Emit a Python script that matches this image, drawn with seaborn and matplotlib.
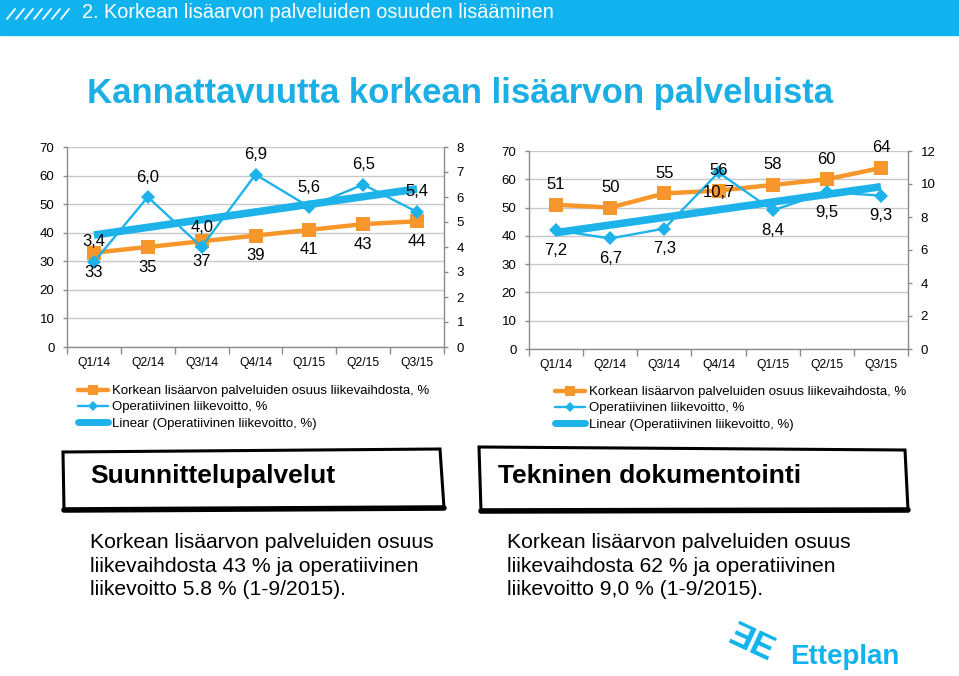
import numpy as np
import pandas as pd
import matplotlib
matplotlib.use("Agg")
import matplotlib.pyplot as plt
import seaborn as sns
from matplotlib.lines import Line2D
from matplotlib.patches import Rectangle, Polygon

# ---------------- data ----------------
quarters = ["Q1/14", "Q2/14", "Q3/14", "Q4/14", "Q1/15", "Q2/15", "Q3/15"]
share_design = [33, 35, 37, 39, 41, 43, 44]
ebit_design = [3.4, 6.0, 4.0, 6.9, 5.6, 6.5, 5.4]
share_tech = [51, 50, 55, 56, 58, 60, 64]
ebit_tech = [7.2, 6.7, 7.3, 10.7, 8.4, 9.5, 9.3]
legend_labels = ["Korkean lisäarvon palveluiden osuus liikevaihdosta, %",
                 "Operatiivinen liikevoitto, %",
                 "Linear (Operatiivinen liikevoitto, %)"]

ORANGE = "#F7962B"
BLUE = "#1DB3EA"
CYAN = "#10B3EE"
TITLE_C = "#1BAFE6"
GRAY = "#8C8C8C"
GRID = "#C8C8C8"

sns.set_theme(style="white")
plt.rcParams["font.family"] = ["Liberation Sans", "DejaVu Sans"]
plt.rcParams["text.color"] = "black"

W, H = 959, 676
fig = plt.figure(figsize=(W / 100, H / 100), dpi=100)


def fx(x):
    return x / W


def fy(y):
    return 1 - y / H


def fmt(v):
    return f"{v:.1f}".replace(".", ",")


def draw_chart(px_left, px_top, px_right, px_bottom, share, ebit, ymax2, step2, share_above):
    ax = fig.add_axes([fx(px_left), fy(px_bottom), (px_right - px_left) / W, (px_bottom - px_top) / H])
    x = np.arange(len(quarters))
    df = pd.DataFrame({"x": x, "share": share, "ebit": ebit})
    sns.lineplot(data=df, x="x", y="share", ax=ax, color=ORANGE, lw=3.2, marker="s",
                 markersize=10.5, markeredgewidth=0, zorder=3)
    ax2 = ax.twinx()
    sns.lineplot(data=df, x="x", y="ebit", ax=ax2, color=BLUE, lw=1.7, marker="D",
                 markersize=7, markeredgewidth=0, zorder=3)
    sns.regplot(data=df, x="x", y="ebit", ax=ax2, scatter=False, ci=None, truncate=True,
                line_kws=dict(color=BLUE, lw=5.5, solid_capstyle="butt", zorder=4))

    ax.set_xlim(-0.5, len(quarters) - 0.5)
    ax.set_ylim(0, 70)
    ax.set_yticks(range(0, 71, 10))
    ax2.set_ylim(0, ymax2)
    ax2.set_yticks(np.arange(0, ymax2 + 0.1, step2))
    ax.set_xticks(x)
    ax.set_xticklabels(quarters)
    ax.set_xticks(np.arange(-0.5, len(quarters), 1), minor=True)
    for a in (ax, ax2):
        a.set_xlabel("")
        a.set_ylabel("")
    ax.tick_params(axis="x", which="major", length=0, pad=7, labelsize=8.7, labelcolor="black")
    ax.tick_params(axis="x", which="minor", bottom=True, length=5, width=1, color=GRAY, direction="out")
    ax.tick_params(axis="y", left=True, length=3, width=1, color=GRAY, direction="out",
                   labelsize=9.5, pad=6, labelcolor="black")
    ax2.tick_params(axis="y", right=True, length=3, width=1, color=GRAY, direction="out",
                    labelsize=9.5, pad=6, labelcolor="black")
    ax.grid(axis="y", color=GRID, lw=1)
    ax.grid(axis="x", visible=False)
    ax2.grid(False)
    ax.set_axisbelow(True)
    for s in ("top", "right"):
        ax.spines[s].set_visible(False)
    for s in ("left", "bottom"):
        ax.spines[s].set_color(GRAY)
        ax.spines[s].set_linewidth(1)
    for s in ("top", "left", "bottom"):
        ax2.spines[s].set_visible(False)
    ax2.spines["right"].set_color(GRAY)
    ax2.spines["right"].set_linewidth(1)

    off = 20
    for xi, v in zip(x, share):
        ax2.annotate(str(v), (xi, v), xycoords=ax.transData,
                     xytext=(0, off if share_above else -off), textcoords="offset pixels",
                     ha="center", va="center", fontsize=12, zorder=6)
    for xi, v in zip(x, ebit):
        ax2.annotate(fmt(v), (xi, v), xytext=(0, -off if share_above else off),
                     textcoords="offset pixels", ha="center", va="center", fontsize=12, zorder=6)
    return ax, ax2


draw_chart(67, 147, 444, 347, share_design, ebit_design, 8, 1, share_above=False)
draw_chart(529, 151, 908, 349, share_tech, ebit_tech, 12, 2, share_above=True)

# legends
handles = [Line2D([], [], color=ORANGE, lw=3.2, marker="s", markersize=7, mew=0),
           Line2D([], [], color=BLUE, lw=1.7, marker="D", markersize=5, mew=0),
           Line2D([], [], color=BLUE, lw=5)]
for lx, ly in ((78, 385), (555, 386)):
    fig.legend(handles, legend_labels, loc="upper left", bbox_to_anchor=(fx(lx), fy(ly)),
               frameon=False, fontsize=9.5, handlelength=2.3, handletextpad=0.25,
               labelspacing=0.3, borderpad=0, borderaxespad=0)

# header band
fig.add_artist(Rectangle((0, fy(35)), 1, 35 / H, transform=fig.transFigure, color=CYAN, zorder=0))
for i in range(7):
    x0 = 7 + 9 * i
    fig.add_artist(Line2D([fx(x0), fx(x0 + 8)], [fy(19), fy(9)], transform=fig.transFigure,
                          color="white", lw=1.3, zorder=1))
fig.text(fx(82), fy(12), "2. Korkean lisäarvon palveluiden osuuden lisääminen", color="white",
         fontsize=14.3, va="center", ha="left")

# title
fig.text(fx(87), fy(93), "Kannattavuutta korkean lisäarvon palveluista", color=TITLE_C,
         fontsize=25, fontweight="bold", va="center", ha="left")


# hand-drawn boxes
def sketch_box(pts, title, tx, ty):
    poly = Polygon([(fx(a), fy(b)) for a, b in pts], closed=True, transform=fig.transFigure,
                   facecolor="white", edgecolor="black", lw=2.2, zorder=1)
    fig.add_artist(poly)
    bl, br = pts[3], pts[2]
    fig.add_artist(Line2D([fx(bl[0]), fx(br[0])], [fy(bl[1]), fy(br[1])], transform=fig.transFigure,
                          color="black", lw=4, solid_capstyle="round", zorder=2))
    fig.text(fx(tx), fy(ty), title, fontsize=19, fontweight="bold", va="center", ha="left", zorder=3)


sketch_box([(63, 452), (440, 449), (444, 508), (64, 510)], "Suunnittelupalvelut", 90, 476)
sketch_box([(479, 447), (905, 450), (908, 510), (481, 511)], "Tekninen dokumentointi", 498, 476)

fig.text(fx(90), fy(566), "Korkean lisäarvon palveluiden osuus\nliikevaihdosta 43 % ja operatiivinen\nliikevoitto 5.8 % (1-9/2015).",
         fontsize=15.2, va="center", ha="left", linespacing=1.3)
fig.text(fx(507), fy(566), "Korkean lisäarvon palveluiden osuus\nliikevaihdosta 62 % ja operatiivinen\nliikevoitto 9,0 % (1-9/2015).",
         fontsize=15.2, va="center", ha="left", linespacing=1.3)

# logo
fig.text(fx(752), fy(643), "ƎE", color=CYAN, fontsize=25, fontweight="bold", va="center", ha="center",
         rotation=-25)
fig.text(fx(790), fy(657), "Etteplan", color=CYAN, fontsize=20, fontweight="bold", va="center", ha="left")

fig.savefig("out.png", dpi=100)
